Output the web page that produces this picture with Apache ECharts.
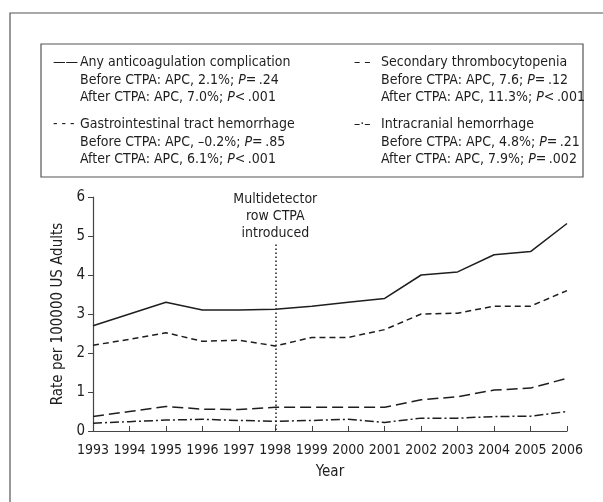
<!DOCTYPE html>
<html>
<head>
<meta charset="utf-8">
<script src="https://cdn.jsdelivr.net/npm/echarts@6/dist/echarts.min.js"></script>
<style>
  html, body { margin: 0; padding: 0; background: #fff; }
  #chart { width: 603px; height: 502px; }
</style>
</head>
<body>
<div id="chart"></div>
<script>
var years = ['1993', '1994', '1995', '1996', '1997', '1998', '1999', '2000', '2001', '2002', '2003', '2004', '2005', '2006'];
var anyComplication = [2.7, 3.0, 3.3, 3.1, 3.1, 3.12, 3.2, 3.3, 3.4, 4.0, 4.08, 4.52, 4.6, 5.32];
var giHemorrhage = [2.2, 2.35, 2.52, 2.3, 2.33, 2.18, 2.4, 2.4, 2.6, 3.0, 3.02, 3.2, 3.2, 3.6];
var thrombocytopenia = [0.37, 0.5, 0.63, 0.56, 0.55, 0.61, 0.61, 0.61, 0.61, 0.8, 0.88, 1.05, 1.1, 1.35];
var intracranial = [0.2, 0.24, 0.28, 0.3, 0.27, 0.25, 0.27, 0.3, 0.22, 0.33, 0.33, 0.37, 0.38, 0.5];
var yTicks = [0, 1, 2, 3, 4, 5, 6];

var seriesNames = ['Any anticoagulation complication', 'Gastrointestinal tract hemorrhage',
                   'Secondary thrombocytopenia', 'Intracranial hemorrhage'];
var legendGlyphs = ['\u2014\u2014', '- - -', '\u2013 \u2013', '\u2013\u00b7\u2013'];
var beforeText = ['Before CTPA: APC, 2.1%; ', 'Before CTPA: APC, \u20130.2%; ',
                  'Before CTPA: APC, 7.6; ', 'Before CTPA: APC, 4.8%; '];
var beforeP = ['=\u2009.24', '=\u2009.85', '=\u2009.12', '=\u2009.21'];
var afterText = ['After CTPA: APC, 7.0%; ', 'After CTPA: APC, 6.1%; ',
                 'After CTPA: APC, 11.3%; ', 'After CTPA: APC, 7.9%; '];
var afterP = ['<\u2009.001', '<\u2009.001', '<\u2009.001', '=\u2009.002'];

var FONT = "'Liberation Sans Narrow', 'DejaVu Sans Condensed', 'Roboto', sans-serif";
var INK = '#1e1e1e';
var FS = 14;

var chart = echarts.init(document.getElementById('chart'));

function lineSeries(name, data, dash, extra) {
    var s = {
        name: name,
        type: 'line',
        data: data,
        symbol: 'none',
        silent: true,
        lineStyle: { color: INK, width: 1.5, type: dash }
    };
    if (extra) {
        for (var k in extra) s[k] = extra[k];
    }
    return s;
}

// legend text: glyph + name, then two indented APC lines
function legendFormatter(name) {
    var i = seriesNames.indexOf(name);
    return '{ic|' + legendGlyphs[i] + '}{t|' + name + '}\n' +
           '{sp| }{t|' + beforeText[i] + '}{i|P}{t|' + beforeP[i] + '}\n' +
           '{sp| }{t|' + afterText[i] + '}{i|P}{t|' + afterP[i] + '}';
}

var legendText = {
    fontFamily: FONT,
    fontSize: FS,
    color: INK,
    rich: {
        ic: { width: 27, fontSize: FS, lineHeight: 17.5, fontFamily: FONT, color: INK },
        sp: { width: 27, fontSize: FS, lineHeight: 17.5 },
        t: { fontSize: FS, lineHeight: 17.5, fontFamily: FONT, color: INK },
        i: { fontSize: FS, lineHeight: 17.5, fontFamily: FONT, fontStyle: 'italic', color: INK }
    }
};

function legendColumn(left, names) {
    return {
        orient: 'vertical',
        left: left,
        top: 55.5,
        padding: 0,
        itemGap: 13,
        itemWidth: 0,
        itemHeight: 10,
        itemTextGap: 0,
        icon: 'none',
        selectedMode: false,
        data: names,
        formatter: legendFormatter,
        textStyle: legendText
    };
}

var option = {
    backgroundColor: '#fff',
    animation: false,
    textStyle: { fontFamily: FONT, color: INK },
    graphic: [
        {
            type: 'rect',
            shape: { x: 10, y: 13, width: 620, height: 520 },
            style: { fill: null, stroke: '#555', lineWidth: 1.2 },
            silent: true
        },
        {
            type: 'rect',
            shape: { x: 41, y: 44, width: 542, height: 133 },
            style: { fill: null, stroke: '#555', lineWidth: 1.2 },
            silent: true
        }
    ],
    legend: [
        legendColumn(48, [seriesNames[0], seriesNames[1]]),
        legendColumn(349, [seriesNames[2], seriesNames[3]])
    ],
    grid: {
        left: 93,
        right: 36,
        top: 197,
        bottom: 71,
        containLabel: false
    },
    xAxis: {
        type: 'category',
        boundaryGap: false,
        data: years,
        name: 'Year',
        nameLocation: 'middle',
        nameGap: 34,
        nameTextStyle: { fontFamily: FONT, fontSize: 15, color: INK },
        axisLine: { lineStyle: { color: '#444', width: 1.2 } },
        axisTick: { inside: true, length: 5, alignWithLabel: true, lineStyle: { color: '#444' } },
        axisLabel: { fontFamily: FONT, fontSize: FS, color: INK, margin: 12, interval: 0 },
        splitLine: { show: false }
    },
    yAxis: {
        type: 'value',
        min: yTicks[0],
        max: yTicks[yTicks.length - 1],
        interval: 1,
        name: 'Rate per 100000 US Adults',
        nameLocation: 'middle',
        nameGap: 19,
        nameTextStyle: { fontFamily: FONT, fontSize: 15, color: INK },
        axisLine: { show: true, lineStyle: { color: '#444', width: 1.2 } },
        axisTick: { show: true, inside: false, length: 5, lineStyle: { color: '#444' } },
        axisLabel: { fontFamily: FONT, fontSize: 15, color: INK, margin: 8 },
        splitLine: { show: false }
    },
    series: [
        lineSeries(seriesNames[0], anyComplication, 'solid', {
            markLine: {
                silent: true,
                symbol: ['none', 'none'],
                lineStyle: { color: INK, width: 1.5, type: [1.5, 2.5] },
                label: {
                    show: true,
                    position: 'start',
                    distance: 3,
                    formatter: 'Multidetector\nrow CTPA\nintroduced',
                    fontFamily: FONT,
                    fontSize: FS,
                    lineHeight: 16.7,
                    color: INK
                },
                data: [[{ coord: ['1998', 4.78] }, { coord: ['1998', 0] }]]
            }
        }),
        lineSeries(seriesNames[1], giHemorrhage, [6, 4]),
        lineSeries(seriesNames[2], thrombocytopenia, [11, 5]),
        lineSeries(seriesNames[3], intracranial, [9, 3, 2, 3])
    ]
};

chart.setOption(option);
window.onresize = function () {
    chart.resize();
};
</script>
</body>
</html>
